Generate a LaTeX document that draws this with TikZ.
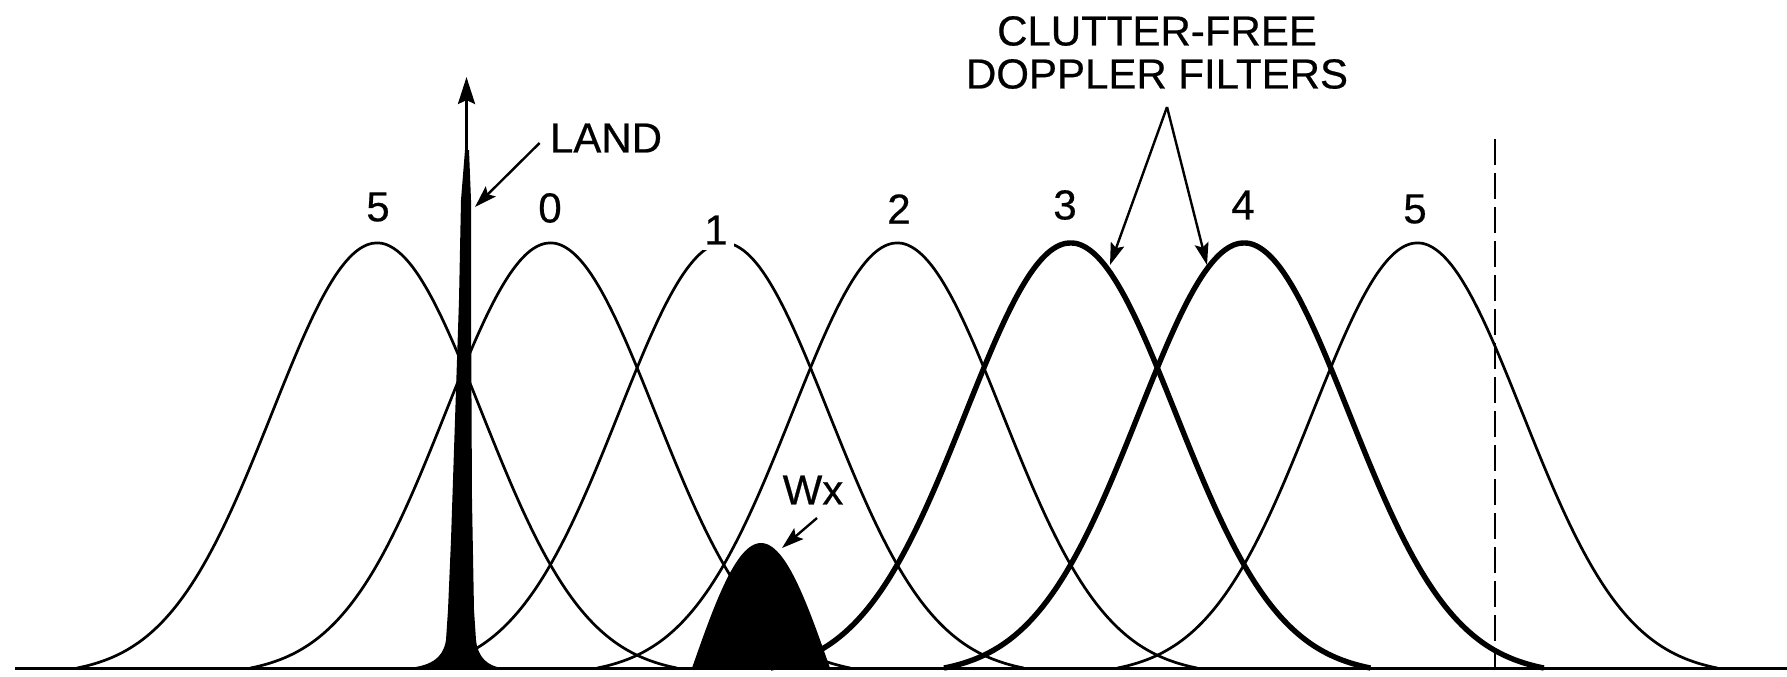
\documentclass[tikz,border=0pt]{standalone}
\usepackage{fontspec}
\setmainfont[FakeBold=0.5]{Liberation Sans}
\usetikzlibrary{arrows.meta,calc}
\begin{document}
\begin{tikzpicture}[x=0.5pt,y=-0.5pt,
  filt/.style={line width=1.35pt},
  filtbold/.style={line width=2.7pt},
  lbl/.style={font=\fontsize{21}{24}\selectfont, inner sep=1pt},
  pointer/.style={line width=1.2pt, -{Stealth[length=11pt,width=7pt,inset=2pt]}},
  spikearrow/.style={line width=1.6pt, -{Stealth[length=13.5pt,width=8.5pt,inset=2pt]}},
  cutoff/.style={line width=1.2pt, dash pattern=on 13pt off 4pt},
]
\useasboundingbox (0,0) rectangle (1787,676);

% filter responses
\foreach \c in {377,550.4,723.8,897.2,1417.4}{
  \draw[filt] plot[domain=-3:3, samples=121, smooth, variable=\t]
    ({\c+100*\t}, {668-432.3*(exp(-\t*\t/2.205)-0.01688)});
}
\foreach \c in {1070.6,1244}{
  \draw[filtbold] plot[domain=-3:3, samples=121, smooth, variable=\t]
    ({\c+100*\t}, {668-432.3*(exp(-\t*\t/2.205)-0.01688)});
}

% PRF line
\draw[cutoff] (1495,139) -- (1495,668);

% baseline
\draw[line width=1.5pt] (15,668) -- (1787,668);

% weather return
\fill plot[domain=-1:1, samples=61, smooth, variable=\t]
  ({761+69*\t}, {668-125*cos(90*\t)}) -- cycle;

% land return spike
\fill (465,150) -- (461,200) -- (459,300) -- (455,420) -- (451,540) -- (448,610)
  -- (446,640) .. controls (443,660) and (428,666) .. (408,668)
  -- (502,668) .. controls (488,666) and (478,658) .. (476,640)
  -- (474,610) -- (472,500) -- (471,300) -- (471,200) -- (469,150) -- cycle;
\coordinate (spikebase) at (466.5,170);
\coordinate (spiketop) at (466.5,77);
\draw[spikearrow] (spikebase) -- (spiketop);

% filter numbers
\node[lbl] (l5a) at (378,207) {5};
\node[lbl] (l0) at (550,208) {0};
\node[lbl, fill=white, inner sep=3pt] (l1) at (716,230) {1};
\node[lbl] (l2) at (899,209) {2};
\node[lbl] (l3) at (1065,205) {3};
\node[lbl] (l4) at (1243,205) {4};
\node[lbl] (l5b) at (1415,209) {5};

% annotations
\node[lbl] (cf1) at (1157,31) {CLUTTER-FREE};
\node[lbl] (cf2) at (1157,74) {DOPPLER FILTERS};
\coordinate (fork) at (1167,107);
\coordinate (t3) at (1110,265);
\coordinate (t4) at (1207,265);
\draw[pointer] (fork) -- (t3);
\draw[pointer] (fork) -- (t4);

\node[lbl] (land) at (606,138) {LAND};
\coordinate (landtip) at (475,207);
\draw[pointer] ($(land.west)+(-8,5)$) -- (landtip);

\node[lbl] (wx) at (813,490) {Wx};
\coordinate (wxs) at (817,518);
\coordinate (wxtip) at (782,548);
\draw[pointer] (wxs) -- (wxtip);
\end{tikzpicture}
\end{document}
